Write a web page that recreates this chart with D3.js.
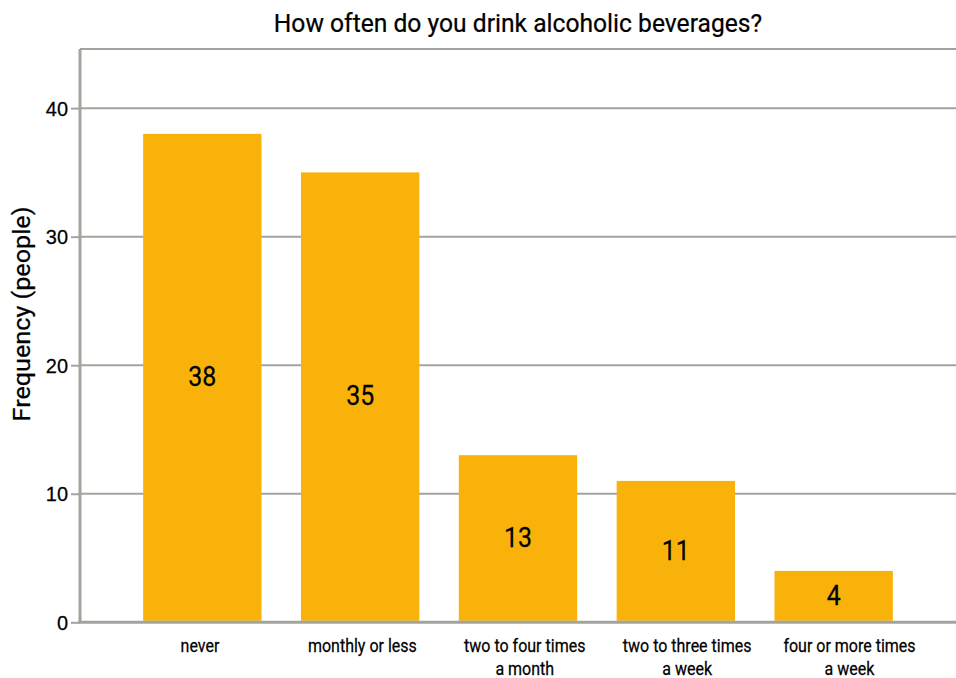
<!DOCTYPE html>
<html>
<head>
<meta charset="utf-8">
<script src="https://cdn.jsdelivr.net/npm/d3@7"></script>
<style>
  html, body { margin: 0; padding: 0; background: #fff; }
  svg { display: block; font-family: Roboto, "Noto Sans", sans-serif; }
</style>
</head>
<body>
<svg id="chart" width="956" height="678"></svg>
<script>
// Survey answers and how many people gave each one
const categories = [
  ["never"],
  ["monthly or less"],
  ["two to four times", "a month"],
  ["two to three times", "a week"],
  ["four or more times", "a week"]
];
const frequencies = [38, 35, 13, 11, 4];
const yTicks = [0, 10, 20, 30, 40];
const yMax = 44.6;

const W = 956, H = 678;
const margin = { top: 49, right: 0, bottom: 55, left: 80 };

const svg = d3.select("#chart");
const keys = categories.map(c => c.join(" "));

const x = d3.scaleBand()
  .domain(keys)
  .range([margin.left, W - margin.right])
  .paddingInner(0.25)
  .paddingOuter(0.4);

// category captions sit on their own, slightly wider, spacing
const xLabel = d3.scalePoint()
  .domain(keys)
  .range([200, 849.5]);

const y = d3.scaleLinear()
  .domain([0, yMax])
  .range([H - margin.bottom - 0.7, margin.top]);

const gridColor = "#a3a39e";
const ink = "#000";

// condensed text helper: text at (cx, cy), narrowed horizontally by sx
function ctext(parent, cx, cy, str, size, sx, anchor) {
  return parent.append("g")
    .attr("transform", `translate(${cx},${cy}) scale(${sx},1)`)
    .append("text")
    .attr("text-anchor", anchor || "middle")
    .attr("font-size", size)
    .attr("fill", ink)
    .attr("stroke", ink)
    .attr("stroke-width", 0.25)
    .text(str);
}

// horizontal gridlines
svg.append("g")
  .selectAll("line")
  .data(yTicks.filter(d => d > 0))
  .join("line")
  .attr("x1", margin.left).attr("x2", W)
  .attr("y1", d => y(d)).attr("y2", d => y(d))
  .attr("stroke", gridColor).attr("stroke-width", 2);

// top frame line
svg.append("line")
  .attr("x1", margin.left).attr("x2", W)
  .attr("y1", margin.top).attr("y2", margin.top)
  .attr("stroke", gridColor).attr("stroke-width", 2);

// bars
svg.append("g")
  .selectAll("rect")
  .data(frequencies)
  .join("rect")
  .attr("x", (d, i) => x(keys[i]))
  .attr("width", x.bandwidth())
  .attr("y", d => y(d))
  .attr("height", d => y(0) - 1.5 - y(d))
  .attr("fill", "#f9b20a");

// value labels centred in each bar
const vals = svg.append("g");
frequencies.forEach((d, i) => {
  const cx = x(keys[i]) + x.bandwidth() / 2;
  const cy = (y(d) + y(0)) / 2 + 8;
  ctext(vals, cx, cy, d, 28, 0.89);
});

// y axis
const yAxis = d3.axisLeft(y).tickValues(yTicks).tickSize(9).tickPadding(3);
const gy = svg.append("g")
  .attr("transform", `translate(${margin.left},0)`)
  .call(yAxis);
gy.select(".domain").remove();
gy.selectAll(".tick line").attr("stroke", gridColor).attr("stroke-width", 2);
gy.selectAll(".tick text").remove();
yTicks.forEach(t => {
  ctext(gy, -12, y(t) + 7.5, t, 21, 0.95, "end");
});
gy.append("line")
  .attr("x1", 0).attr("x2", 0)
  .attr("y1", margin.top).attr("y2", y(0) + 1)
  .attr("stroke", gridColor).attr("stroke-width", 3);

// x axis baseline
svg.append("line")
  .attr("x1", margin.left - 1.5).attr("x2", W)
  .attr("y1", y(0)).attr("y2", y(0))
  .attr("stroke", gridColor).attr("stroke-width", 3);

// category labels, one or two lines
const xl = svg.append("g");
categories.forEach((lines, i) => {
  const cx = xLabel(keys[i]);
  lines.forEach((ln, j) => {
    ctext(xl, cx, y(0) + 29.8 + j * 22.7, ln, 18, 0.89);
  });
});

// chart title
ctext(svg, (margin.left + W) / 2, 32, "How often do you drink alcoholic beverages?", 26.5, 0.93);

// y axis title
svg.append("g")
  .attr("transform", `translate(29.5,314) rotate(-90) scale(1.05,1)`)
  .append("text")
  .attr("text-anchor", "middle")
  .attr("font-size", 24)
  .attr("fill", ink)
  .attr("stroke", ink)
  .attr("stroke-width", 0.25)
  .text("Frequency (people)");
</script>
</body>
</html>
